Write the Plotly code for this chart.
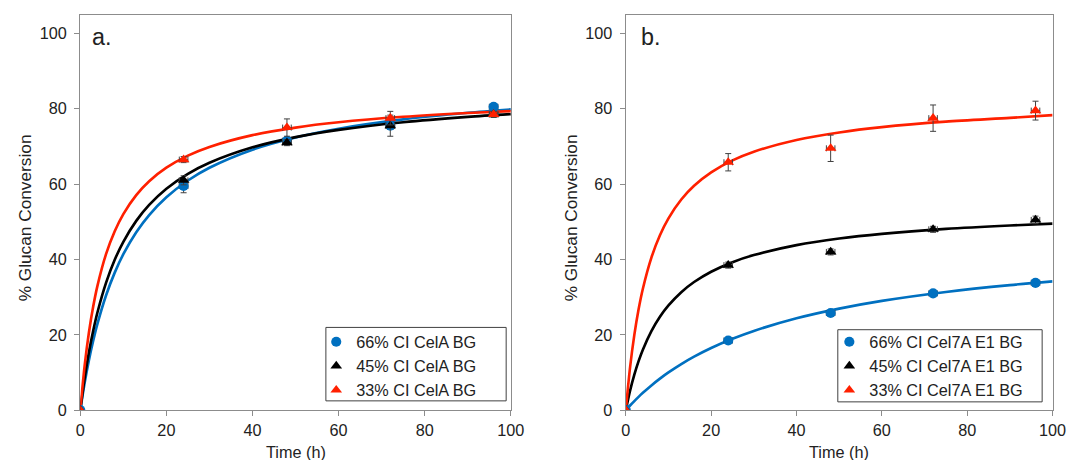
import plotly.graph_objects as go

# ---------------- data ----------------
time_pts = [0, 24, 48, 72, 96]

# panel a (CelA BG)
a_66 = [0, 59.5, 71.5, 75.5, 80.5]
a_45 = [0, 61.0, 71.0, 75.5, 78.5]
a_33 = [0, 66.5, 75.0, 77.5, 78.5]
a_66_err = [0, 1.8, 0.8, 1.0, 0.8]
a_45_err = [0, 1.2, 0.8, 2.8, 0.8]
a_33_err = [0, 0.8, 2.3, 1.8, 0.8]

# panel b (Cel7A E1 BG)
b_66 = [0, 18.5, 25.8, 31.0, 33.8]
b_45 = [0, 38.5, 42.0, 48.0, 50.5]
b_33 = [0, 65.8, 69.5, 77.5, 79.5]
b_66_err = [0, 0.6, 0.6, 0.6, 0.6]
b_45_err = [0, 0.8, 0.8, 0.8, 1.0]
b_33_err = [0, 2.3, 3.5, 3.5, 2.5]

time_err = [0, 1, 1, 1, 1]

# fitted curves
curve_t = [0, 1, 2, 3, 4, 6, 8, 10, 13, 16, 20, 25, 30, 40, 50, 60, 75, 90, 100]
fit_a_66 = [0, 7.12, 13.19, 18.41, 22.97, 30.51, 36.51, 41.40, 47.22, 51.78, 56.51, 60.96, 64.34, 69.13, 72.36, 74.69, 77.17, 78.92, 79.82]
fit_a_45 = [0, 8.41, 15.32, 21.10, 26.00, 33.87, 39.91, 44.69, 50.24, 54.48, 58.77, 62.72, 65.66, 69.76, 72.47, 74.39, 76.43, 77.84, 78.57]
fit_a_33 = [0, 11.71, 20.56, 27.49, 33.06, 41.46, 47.49, 52.04, 57.08, 60.76, 64.35, 67.55, 69.86, 72.99, 75.00, 76.40, 77.86, 78.87, 79.38]
fit_b_66 = [0, 1.24, 2.42, 3.54, 4.60, 6.58, 8.38, 10.02, 12.24, 14.21, 16.50, 18.95, 21.04, 24.39, 26.96, 29.01, 31.38, 33.20, 34.19]
fit_b_45 = [0, 5.16, 9.43, 13.01, 16.06, 20.98, 24.78, 27.79, 31.32, 34.01, 36.75, 39.28, 41.16, 43.80, 45.55, 46.79, 48.11, 49.02, 49.50]
fit_b_33 = [0, 11.37, 20.00, 26.77, 32.23, 40.49, 46.43, 50.92, 55.91, 59.55, 63.12, 66.29, 68.60, 71.71, 73.71, 75.11, 76.57, 77.57, 78.30]

labels_a = ["66% CI CelA BG", "45% CI CelA BG", "33% CI CelA BG"]
labels_b = ["66% CI Cel7A E1 BG", "45% CI Cel7A E1 BG", "33% CI Cel7A E1 BG"]

x_ticks = [0, 20, 40, 60, 80, 100]
y_ticks = [0, 20, 40, 60, 80, 100]

# ---------------- styling ----------------
BLUE = "#0070C0"
BLACK = "#000000"
RED = "#FF2000"
FONT = "Arial, Liberation Sans, sans-serif"
RW, RH = 1069, 460          # reference frame (positions given in these pixels)
W, H = 1082, 470            # figure size
F = 1.015                   # size compensation

def px(x):
    return x / RW

def py(y):
    return 1 - y / RH

fig = go.Figure()

def add_panel(xa, ya, legend, labels, vals, errs, fits):
    colors = [BLUE, BLACK, RED]
    symbols = ["circle", "triangle-up", "triangle-up"]
    for fit, c in zip(fits, colors):
        fig.add_trace(go.Scatter(
            x=curve_t, y=fit, mode="lines",
            line=dict(color=c, width=2.6 * F, shape="spline", smoothing=0.8),
            xaxis=xa, yaxis=ya, showlegend=False, hoverinfo="skip"))
    for lab, v, e, c, s in zip(labels, vals, errs, colors, symbols):
        fig.add_trace(go.Scatter(
            x=time_pts, y=v, mode="markers", name=lab,
            marker=dict(color=c, symbol=s, size=10 * F),
            error_y=dict(type="data", array=e, visible=True, color="#404040", thickness=1, width=3),
            error_x=dict(type="data", array=time_err, visible=True, color="#404040", thickness=1, width=3),
            xaxis=xa, yaxis=ya, legend=legend))

add_panel("x", "y", "legend", labels_a, [a_66, a_45, a_33], [a_66_err, a_45_err, a_33_err],
          [fit_a_66, fit_a_45, fit_a_33])
add_panel("x2", "y2", "legend2", labels_b, [b_66, b_45, b_33], [b_66_err, b_45_err, b_33_err],
          [fit_b_66, fit_b_45, fit_b_33])

tickfont = dict(family=FONT, size=16 * F, color="#222222")
ax_common = dict(
    range=[0, 100], tickvals=x_ticks, ticks="outside", ticklen=5, tickcolor="#8c8c8c",
    showline=True, linecolor="#8c8c8c", linewidth=1.3, mirror=True, showgrid=False,
    zeroline=False, tickfont=tickfont)
ay_common = dict(
    range=[0, 105], tickvals=y_ticks, ticks="outside", ticklen=5, tickcolor="#8c8c8c",
    showline=True, linecolor="#8c8c8c", linewidth=1.3, mirror=True, showgrid=False,
    zeroline=False, tickfont=tickfont, ticklabelstandoff=4)

ydom = [py(409.3), py(14.5)]
leg_common = dict(bgcolor="rgba(0,0,0,0)", borderwidth=0,
                  font=dict(family=FONT, size=16 * F, color="#222222"), itemwidth=30,
                  tracegroupgap=0, y=py(324), yanchor="top", xanchor="left")
fig.update_layout(
    width=W, height=H, autosize=False, margin=dict(l=0, r=0, t=0, b=0),
    paper_bgcolor="white", plot_bgcolor="white",
    xaxis=dict(domain=[px(75.7), px(508.7)], anchor="y", **ax_common),
    yaxis=dict(domain=ydom, anchor="x", **ay_common),
    xaxis2=dict(domain=[px(624.3), px(1053.5)], anchor="y2", **ax_common),
    yaxis2=dict(domain=ydom, anchor="x2", **ay_common),
    legend=dict(x=px(313), **leg_common),
    legend2=dict(x=px(829), **leg_common),
    showlegend=True,
)

# legend frames
shapes = [
    dict(type="rect", xref="paper", yref="paper", x0=px(322.7), x1=px(504), y0=py(400), y1=py(326.7),
         line=dict(color="#404040", width=1), fillcolor="white", layer="below"),
    dict(type="rect", xref="paper", yref="paper", x0=px(837.5), x1=px(1043), y0=py(401), y1=py(329),
         line=dict(color="#404040", width=1), fillcolor="white", layer="below"),
]
fig.update_layout(shapes=shapes)

ann_font = dict(family=FONT, size=16 * F, color="#222222")
yt_font = dict(family=FONT, size=17 * F, color="#222222")
lab_font = dict(family=FONT, size=23 * F, color="#222222")
annotations = [
    dict(text="Time (h)", x=px(292.2), y=py(451), xref="paper", yref="paper",
         showarrow=False, font=ann_font, xanchor="center", yanchor="middle"),
    dict(text="Time (h)", x=px(838.7), y=py(451), xref="paper", yref="paper",
         showarrow=False, font=ann_font, xanchor="center", yanchor="middle"),
    dict(text="% Glucan Conversion", x=px(21), y=py(217), xref="paper", yref="paper",
         showarrow=False, font=yt_font, textangle=-90, xanchor="center", yanchor="middle"),
    dict(text="% Glucan Conversion", x=px(570), y=py(217), xref="paper", yref="paper",
         showarrow=False, font=yt_font, textangle=-90, xanchor="center", yanchor="middle"),
    dict(text="a.", x=px(85), y=py(37), xref="paper", yref="paper",
         showarrow=False, font=lab_font, xanchor="left", yanchor="middle"),
    dict(text="b.", x=px(638), y=py(37), xref="paper", yref="paper",
         showarrow=False, font=lab_font, xanchor="left", yanchor="middle"),
]
fig.update_layout(annotations=annotations)

fig.write_html(
    "out.html",
    config={"responsive": False},
    post_script="document.documentElement.style.margin='0';document.body.style.margin='0';",
)
